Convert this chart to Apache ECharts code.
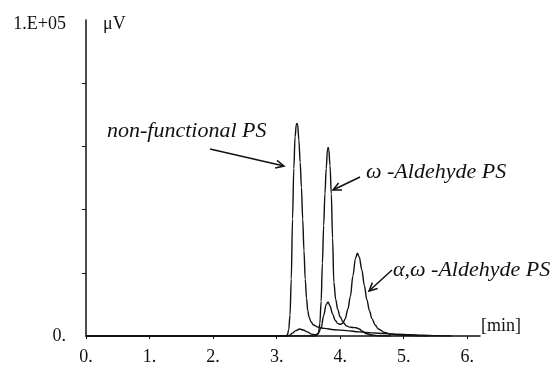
<!DOCTYPE html>
<html>
<head>
<meta charset="utf-8">
<script src="https://cdn.jsdelivr.net/npm/echarts@6/dist/echarts.min.js"></script>
<style>
  html, body { margin: 0; padding: 0; background: #fff; }
  #chart { width: 557px; height: 368px; }
</style>
</head>
<body>
<div id="chart"></div>
<script>
// Retention time axis ticks (min) and detector ticks (μV)
const timeTicks = [0, 1, 2, 3, 4, 5, 6];
const signalLabelValues = [0, 100000];
const signalTickValues = [20000, 40000, 60000, 80000];

// Non-functional PS trace
const nonFunctionalTime = [0, 1, 2, 3.0, 3.15, 3.17, 3.19, 3.21, 3.23, 3.25, 3.27, 3.29, 3.31, 3.32, 3.33, 3.35, 3.37, 3.39, 3.41, 3.43, 3.45, 3.47, 3.49, 3.51, 3.54, 3.58, 3.65, 3.75, 3.9, 4.1, 4.3, 4.5, 4.7, 4.9, 5.1, 5.3, 5.5, 5.75];
const nonFunctionalSignal = [0, 0, 0, 0, 0, 400, 2000, 6500, 18000, 37000, 53000, 63000, 67000, 67300, 67000, 62000, 55000, 47000, 37000, 27000, 18000, 12000, 8000, 6000, 4500, 3500, 2800, 2400, 2000, 1700, 1300, 1000, 750, 550, 380, 220, 100, 0];

// ω-Aldehyde PS trace
const omegaTime = [0, 1, 2, 3.0, 3.62, 3.64, 3.66, 3.68, 3.70, 3.72, 3.74, 3.76, 3.78, 3.80, 3.81, 3.82, 3.84, 3.86, 3.88, 3.90, 3.93, 3.96, 4.0, 4.05, 4.1, 4.15, 4.2, 4.25, 4.3, 4.35, 4.4, 4.5, 4.6, 4.8];
const omegaSignal = [0, 0, 0, 0, 0, 400, 1200, 4000, 11000, 23000, 35000, 45000, 53000, 59000, 59700, 59000, 54000, 45000, 31000, 17000, 11500, 8500, 6000, 4200, 3200, 2800, 2700, 2600, 2200, 1500, 800, 300, 100, 0];

// α,ω-Aldehyde PS trace
const alphaOmegaTime = [0, 1, 2, 3.0, 3.15, 3.2, 3.25, 3.30, 3.36, 3.42, 3.48, 3.55, 3.60, 3.65, 3.70, 3.74, 3.78, 3.81, 3.84, 3.88, 3.92, 3.96, 4.0, 4.04, 4.08, 4.12, 4.16, 4.20, 4.24, 4.27, 4.30, 4.34, 4.38, 4.42, 4.46, 4.50, 4.55, 4.6, 4.7, 4.8, 4.9, 5.0, 5.2, 5.4];
const alphaOmegaSignal = [0, 0, 0, 0, 0, 200, 900, 1700, 2200, 1900, 1300, 600, 400, 700, 2500, 6500, 10000, 10800, 9500, 7000, 5000, 4000, 3700, 4000, 5500, 8500, 12500, 19000, 24500, 26200, 25000, 21000, 16000, 11500, 8000, 5500, 3500, 2200, 1100, 600, 350, 200, 100, 0];

function pairs(t, v) {
  return t.map((x, i) => [x, v[i]]);
}

const serif = '"Liberation Serif", "Times New Roman", serif';
const ink = '#111';

const chart = echarts.init(document.getElementById('chart'), null, { renderer: 'canvas' });

function traceSeries(name, t, v) {
  return {
    name: name,
    type: 'line',
    data: pairs(t, v),
    showSymbol: false,
    smooth: 0.35,
    smoothMonotone: 'x',
    lineStyle: { color: ink, width: 1.4 },
    animation: false,
    z: 3
  };
}

// Arrow: shaft plus an open V head at (x2, y2)
function arrow(x1, y1, x2, y2) {
  const a = Math.atan2(y2 - y1, x2 - x1);
  const L = 9, w = 0.45;
  const h1 = [x2 - L * Math.cos(a - w), y2 - L * Math.sin(a - w)];
  const h2 = [x2 - L * Math.cos(a + w), y2 - L * Math.sin(a + w)];
  return [
    { type: 'line', shape: { x1: x1, y1: y1, x2: x2, y2: y2 }, style: { stroke: ink, lineWidth: 1.5 }, z: 10 },
    { type: 'polyline', shape: { points: [h1, [x2, y2], h2] }, style: { stroke: ink, lineWidth: 1.5, fill: null }, z: 10 }
  ];
}

// Text placed by the top of its box
function label(text, x, y, size, italic) {
  return {
    type: 'text', left: x, top: y, z: 10,
    style: { text: text, font: (italic ? 'italic ' : '') + size + 'px ' + serif, fill: ink }
  };
}

const option = {
  backgroundColor: '#fff',
  animation: false,
  grid: { left: 86, right: 77, top: 20, bottom: 32, containLabel: false },
  xAxis: {
    type: 'value',
    min: 0,
    max: 6.2,
    interval: 1,
    axisLine: { show: true, lineStyle: { color: ink, width: 1.5 } },
    axisTick: { show: true, length: 3, lineStyle: { color: ink, width: 1 } },
    axisLabel: {
      showMaxLabel: false,
      margin: 12,
      color: ink,
      fontFamily: serif,
      fontSize: 18,
      formatter: v => timeTicks.includes(v) ? v + '.' : ''
    },
    splitLine: { show: false }
  },
  yAxis: {
    type: 'value',
    min: 0,
    max: 100000,
    interval: 20000,
    axisLine: { show: true, lineStyle: { color: ink, width: 1.5 } },
    axisTick: { show: true, length: 4, customValues: signalTickValues, lineStyle: { color: ink, width: 1 } },
    axisLabel: {
      customValues: signalLabelValues,
      margin: 20,
      color: ink,
      fontFamily: serif,
      fontSize: 18,
      formatter: v => v === 0 ? '0.' : '{gap|}\n{top|1.E+05}',
      rich: {
        gap: { lineHeight: 8, fontSize: 1 },
        top: { fontFamily: serif, fontSize: 18, color: ink, lineHeight: 20 }
      }
    },
    splitLine: { show: false }
  },
  series: [
    traceSeries('non-functional PS', nonFunctionalTime, nonFunctionalSignal),
    traceSeries('ω-Aldehyde PS', omegaTime, omegaSignal),
    traceSeries('α,ω-Aldehyde PS', alphaOmegaTime, alphaOmegaSignal)
  ],
  graphic: [
    label('μV', 103, 15, 18, false),
    label('[min]', 481, 317, 18, false),
    label('non-functional PS', 107, 120, 22, true),
    label('ω -Aldehyde PS', 366, 161, 22, true),
    label('α,ω -Aldehyde PS', 393, 259, 22, true),
    ...arrow(210, 149, 284, 166),
    ...arrow(360, 177, 333, 190),
    ...arrow(392, 270, 369, 291)
  ]
};

chart.setOption(option);
</script>
</body>
</html>
